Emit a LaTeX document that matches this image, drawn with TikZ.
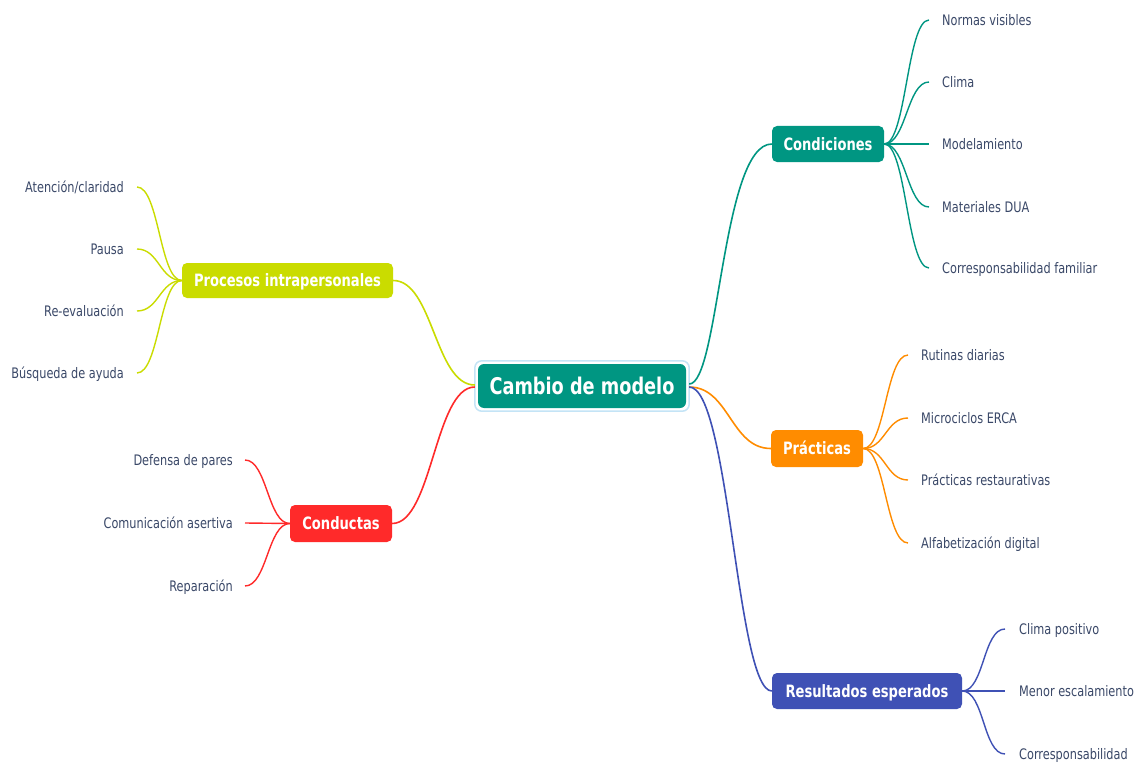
\documentclass[tikz,border=0pt]{standalone}
\usepackage{fontspec}
\setmainfont{DejaVu Sans}
\newfontfamily\leaffont[FakeStretch=0.78]{DejaVu Sans}
\newfontfamily\boxfont[FakeStretch=0.77]{DejaVu Sans}
\usetikzlibrary{calc}
\definecolor{cteal}{RGB}{0,150,130}
\definecolor{clime}{RGB}{202,220,0}
\definecolor{cred}{RGB}{255,42,42}
\definecolor{corange}{RGB}{255,140,0}
\definecolor{cblue}{RGB}{63,81,181}
\definecolor{leaftext}{RGB}{58,72,104}
\definecolor{halo}{RGB}{196,228,246}
\tikzset{
  hubbox/.style={fill=cteal, rounded corners=6pt, text=white,
    font=\boxfont\bfseries\fontsize{23}{26}\selectfont,
    minimum width=208pt, minimum height=44pt, inner sep=0pt,
    text height=17pt, text depth=0pt},
  topic/.style={rounded corners=5pt, text=white,
    font=\boxfont\bfseries\fontsize{17}{20}\selectfont,
    minimum height=36pt, inner sep=0pt, text height=12.5pt, text depth=0pt},
  leafR/.style={anchor=west, text=leaftext,
    font=\leaffont\fontsize{14.5}{17}\selectfont,
    inner xsep=13pt, inner ysep=0pt, text height=12.5pt, text depth=1.5pt},
  leafL/.style={leafR, anchor=east},
  mainline/.style={line width=1.6pt},
  twig/.style={line width=1.4pt},
}
\begin{document}
\begin{tikzpicture}[x=1pt,y=-1pt]
\useasboundingbox (0,0) rectangle (1143,765);
\fill[white] (0,0) rectangle (1143,765);

% hub
\node[hubbox] (hub) at (582,386) {Cambio de modelo};
\draw[halo, line width=1.5pt, rounded corners=7pt]
  ($(hub.north west)+(-3,-3)$) rectangle ($(hub.south east)+(3,3)$);

% topics
\node[topic, fill=cteal, minimum width=112pt] (cond) at (828,144) {Condiciones};
\node[topic, fill=corange, minimum width=92pt, minimum height=37pt] (prac) at (817,448.5) {Prácticas};
\node[topic, fill=cblue, minimum width=190pt] (res) at (867,691) {Resultados esperados};
\node[topic, fill=clime, minimum width=211pt, minimum height=35pt] (proc) at (287.5,280.5) {Procesos intrapersonales};
\node[topic, fill=cred, minimum width=102pt, minimum height=37pt] (cond2) at (341,523.5) {Conductas};

% main connectors
\draw[mainline, cteal] ($(hub.east)+(3,-2)$) .. controls +(30,0) and +(-50,0) .. (cond.west);
\draw[mainline, corange] ($(hub.east)+(3,1)$) .. controls +(40,0) and +(-40,0) .. (prac.west);
\draw[mainline, cblue] ($(hub.east)+(3,1)$) .. controls +(40,0) and +(-35,0) .. (res.west);
\draw[mainline, clime] ($(hub.west)+(-3,-1)$) .. controls +(-40,0) and +(40,0) .. (proc.east);
\draw[mainline, cred] ($(hub.west)+(-3,1)$) .. controls +(-40,0) and +(40,0) .. (cond2.east);

% Condiciones leaves
\node[leafR] (c1) at (929,20) {Normas visibles};
\node[leafR] (c2) at (929,82) {Clima};
\node[leafR] (c3) at (929,144) {Modelamiento};
\node[leafR] (c4) at (929,207) {Materiales DUA};
\node[leafR] (c5) at (929,268) {Corresponsabilidad familiar};
\foreach \n in {c1,c2,c3,c4,c5}
  \draw[twig, cteal] (cond.east) .. controls +(22,0) and +(-22,0) .. (\n.west);

% Prácticas leaves
\node[leafR] (p1) at (908,355) {Rutinas diarias};
\node[leafR] (p2) at (908,418) {Microciclos ERCA};
\node[leafR] (p3) at (908,480) {Prácticas restaurativas};
\node[leafR] (p4) at (908,543) {Alfabetización digital};
\foreach \n in {p1,p2,p3,p4}
  \draw[twig, corange] (prac.east) .. controls +(22,0) and +(-22,0) .. (\n.west);

% Resultados leaves
\node[leafR, inner xsep=14pt] (r1) at (1005,629) {Clima positivo};
\node[leafR, inner xsep=14pt] (r2) at (1005,691) {Menor escalamiento};
\node[leafR, inner xsep=14pt] (r3) at (1005,754) {Corresponsabilidad};
\foreach \n in {r1,r2,r3}
  \draw[twig, cblue] (res.east) .. controls +(22,0) and +(-22,0) .. (\n.west);

% Procesos leaves
\node[leafL] (i1) at (137,187) {Atención/claridad};
\node[leafL] (i2) at (137,249) {Pausa};
\node[leafL] (i3) at (137,311) {Re-evaluación};
\node[leafL] (i4) at (137,373) {Búsqueda de ayuda};
\foreach \n in {i1,i2,i3,i4}
  \draw[twig, clime] (proc.west) .. controls +(-22,0) and +(22,0) .. (\n.east);

% Conductas leaves
\node[leafL, inner xsep=12pt] (k1) at (245,460) {Defensa de pares};
\node[leafL, inner xsep=12pt] (k2) at (245,523) {Comunicación asertiva};
\node[leafL, inner xsep=12pt] (k3) at (245,586) {Reparación};
\foreach \n in {k1,k2,k3}
  \draw[twig, cred] (cond2.west) .. controls +(-22,0) and +(22,0) .. (\n.east);
\end{tikzpicture}
\end{document}
